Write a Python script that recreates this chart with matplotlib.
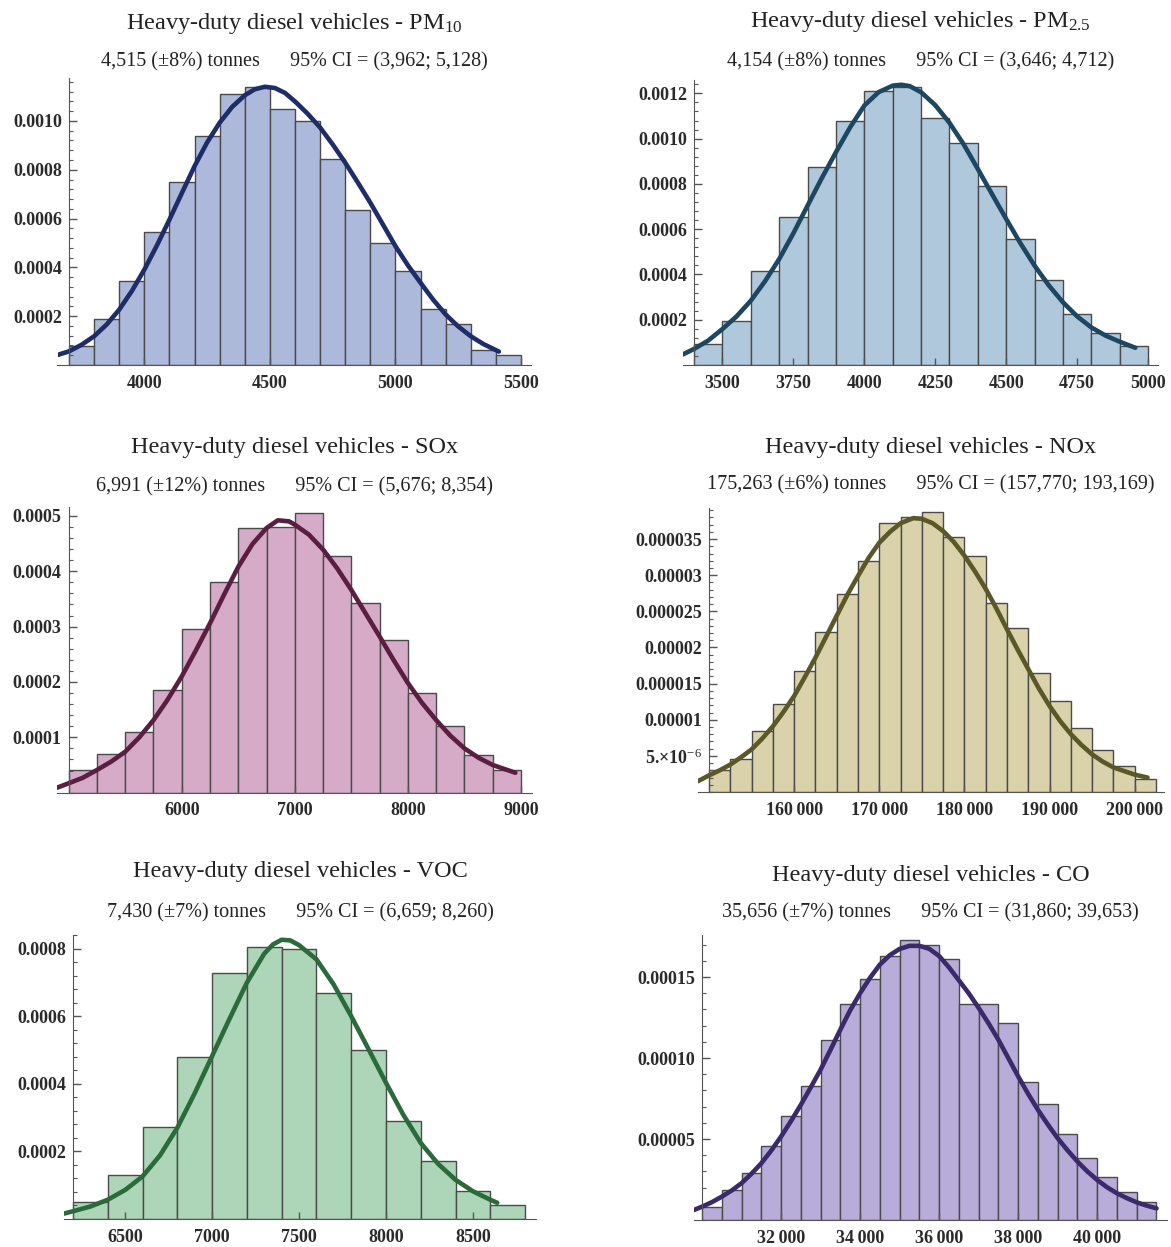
import numpy as np
import matplotlib
matplotlib.use("Agg")
import matplotlib.pyplot as plt
from matplotlib.ticker import AutoMinorLocator

plt.rcParams['font.family'] = ['Liberation Serif', 'DejaVu Serif']
plt.rcParams['mathtext.fontset'] = 'custom'
plt.rcParams['mathtext.rm'] = 'Liberation Serif'
plt.rcParams['mathtext.it'] = 'Liberation Serif:italic'
plt.rcParams['mathtext.bf'] = 'Liberation Serif:bold'

# ---------------- data ----------------
pm10_title = r'Heavy-duty diesel vehicles - PM$_\mathrm{10}$'
pm10_sub = ['4,515 (±8%) tonnes', '95% CI = (3,962; 5,128)']
pm10_bin_start = 3700
pm10_bin_width = 100
pm10_heights = [0.000077, 0.000189, 0.000343, 0.000544, 0.00075, 0.000938, 0.00111, 0.00114,
                0.00105, 0.0010, 0.000843, 0.000635, 0.000498, 0.000384, 0.00023, 0.000166,
                0.00006, 0.000042]
pm10_curve_x = [3654, 3700, 3750, 3800, 3850, 3900, 3950, 4000, 4050, 4100, 4150, 4200, 4250,
                4300, 4350, 4400, 4440, 4480, 4520, 4560, 4600, 4650, 4700, 4750, 4800, 4850,
                4900, 4950, 5000, 5050, 5100, 5150, 5200, 5250, 5300, 5350, 5412]
pm10_curve_y = [0.000041, 0.000056, 0.000083, 0.000118, 0.000166, 0.000227, 0.000303, 0.000391,
                0.00049, 0.000596, 0.000706, 0.000815, 0.000912, 0.000993, 0.001058, 0.001105,
                0.00113, 0.00114, 0.001135, 0.001115, 0.00108, 0.00103, 0.000973, 0.000904,
                0.000829, 0.000748, 0.000665, 0.000576, 0.000487, 0.000408, 0.000337, 0.000268,
                0.000207, 0.000158, 0.000118, 0.000086, 0.000055]
pm10_xticks = [4000, 4500, 5000, 5500]
pm10_xlabels = ['4000', '4500', '5000', '5500']
pm10_yticks = [0.0002, 0.0004, 0.0006, 0.0008, 0.0010]
pm10_ylabels = ['0.0002', '0.0004', '0.0006', '0.0008', '0.0010']

pm25_title = r'Heavy-duty diesel vehicles - PM$_\mathrm{2.5}$'
pm25_sub = ['4,154 (±8%) tonnes', '95% CI = (3,646; 4,712)']
pm25_bin_start = 3400
pm25_bin_width = 100
pm25_heights = [0.000093, 0.000193, 0.000417, 0.000652, 0.000873, 0.00108, 0.00121, 0.00123,
                0.00109, 0.00098, 0.000792, 0.000557, 0.000376, 0.000225, 0.00014, 0.000086]
pm25_curve_x = [3361, 3400, 3450, 3500, 3550, 3600, 3650, 3700, 3750, 3800, 3850, 3900, 3950,
                4000, 4050, 4100, 4130, 4160, 4200, 4250, 4300, 4350, 4400, 4450, 4500, 4550,
                4600, 4650, 4700, 4750, 4800, 4850, 4900, 4955]
pm25_curve_y = [0.000047, 0.000071, 0.000108, 0.000159, 0.000215, 0.000284, 0.00037, 0.000468,
                0.000582, 0.000704, 0.000825, 0.00094, 0.00105, 0.001146, 0.001205, 0.001234,
                0.001238, 0.001232, 0.001205, 0.001148, 0.00107, 0.000975, 0.000866, 0.000755,
                0.000645, 0.000538, 0.000439, 0.000352, 0.000277, 0.000215, 0.000166, 0.00013,
                0.000103, 0.000076]
pm25_xticks = [3500, 3750, 4000, 4250, 4500, 4750, 5000]
pm25_xlabels = ['3500', '3750', '4000', '4250', '4500', '4750', '5000']
pm25_yticks = [0.0002, 0.0004, 0.0006, 0.0008, 0.0010, 0.0012]
pm25_ylabels = ['0.0002', '0.0004', '0.0006', '0.0008', '0.0010', '0.0012']

sox_title = 'Heavy-duty diesel vehicles - SOx'
sox_sub = ['6,991 (±12%) tonnes', '95% CI = (5,676; 8,354)']
sox_bin_start = 5000
sox_bin_width = 250
sox_heights = [0.000041, 0.000069, 0.00011, 0.000186, 0.000296, 0.00038, 0.000478, 0.000479,
               0.000506, 0.000428, 0.000343, 0.000276, 0.00018, 0.000121, 0.000068, 0.000041]
sox_curve_x = [4897, 5000, 5125, 5250, 5375, 5500, 5625, 5750, 5875, 6000, 6125, 6250, 6375,
               6500, 6625, 6750, 6850, 6950, 7000, 7125, 7250, 7375, 7500, 7625, 7750, 7875,
               8000, 8125, 8250, 8375, 8500, 8625, 8750, 8950]
sox_curve_y = [0.000009, 0.000017, 0.000027, 0.000041, 0.000056, 0.000074, 0.0001, 0.000131,
               0.000168, 0.00021, 0.000257, 0.000306, 0.000358, 0.000408, 0.000449, 0.000478,
               0.000492, 0.00049, 0.000484, 0.000466, 0.000439, 0.000405, 0.000366, 0.000324,
               0.000282, 0.000239, 0.000198, 0.000162, 0.000131, 0.000103, 0.00008, 0.000063,
               0.00005, 0.000036]
sox_xticks = [6000, 7000, 8000, 9000]
sox_xlabels = ['6000', '7000', '8000', '9000']
sox_yticks = [0.0001, 0.0002, 0.0003, 0.0004, 0.0005]
sox_ylabels = ['0.0001', '0.0002', '0.0003', '0.0004', '0.0005']

nox_title = 'Heavy-duty diesel vehicles - NOx'
nox_sub = ['175,263 (±6%) tonnes', '95% CI = (157,770; 193,169)']
nox_bin_start = 150000
nox_bin_width = 2500
nox_heights = [3.1e-6, 4.6e-6, 8.4e-6, 12.2e-6, 16.7e-6, 22.2e-6, 27.4e-6, 32.0e-6, 37.2e-6,
               38.0e-6, 38.8e-6, 35.3e-6, 32.7e-6, 26.2e-6, 22.7e-6, 16.4e-6, 12.6e-6, 8.8e-6,
               5.8e-6, 3.6e-6, 1.8e-6]
nox_curve_x = [148700, 150000, 151250, 152500, 153750, 155000, 156250, 157500, 158750, 160000,
               161250, 162500, 163750, 165000, 166250, 167500, 168750, 170000, 171250, 172500,
               174000, 175000, 176250, 177500, 178750, 180000, 181250, 182500, 183750, 185000,
               186250, 187500, 188750, 190000, 191250, 192500, 193750, 195000, 196250, 197500,
               198750, 200000, 201500]
nox_curve_y = [1.5e-6, 2.3e-6, 3.0e-6, 3.8e-6, 4.8e-6, 5.9e-6, 7.4e-6, 9.1e-6, 11.1e-6, 13.3e-6,
               15.9e-6, 18.6e-6, 21.5e-6, 24.4e-6, 27.3e-6, 29.9e-6, 32.4e-6, 34.5e-6, 36.0e-6,
               37.2e-6, 37.9e-6, 37.8e-6, 37.2e-6, 36.1e-6, 34.6e-6, 32.7e-6, 30.5e-6, 28.1e-6,
               25.4e-6, 22.5e-6, 19.7e-6, 17.0e-6, 14.3e-6, 11.9e-6, 9.8e-6, 8.0e-6, 6.5e-6,
               5.2e-6, 4.2e-6, 3.4e-6, 2.9e-6, 2.4e-6, 2.0e-6]
nox_xticks = [160000, 170000, 180000, 190000, 200000]
nox_xlabels = ['160\u2009000', '170\u2009000', '180\u2009000', '190\u2009000', '200\u2009000']
nox_yticks = [5e-6, 10e-6, 15e-6, 20e-6, 25e-6, 30e-6, 35e-6]
nox_ylabels = ['5.×10$^{-6}$', '0.00001', '0.000015', '0.00002', '0.000025', '0.00003', '0.000035']

voc_title = 'Heavy-duty diesel vehicles - VOC'
voc_sub = ['7,430 (±7%) tonnes', '95% CI = (6,659; 8,260)']
voc_bin_start = 6200
voc_bin_width = 200
voc_heights = [0.00005, 0.000129, 0.000272, 0.00048, 0.000727, 0.000805, 0.0008, 0.000669,
               0.000499, 0.000289, 0.000171, 0.000082, 0.000041]
voc_curve_x = [6148, 6200, 6300, 6400, 6500, 6600, 6700, 6800, 6900, 7000, 7100, 7200, 7300,
               7350, 7400, 7450, 7500, 7600, 7700, 7800, 7900, 8000, 8100, 8200, 8300, 8400,
               8500, 8600, 8640]
voc_curve_y = [0.000016, 0.000023, 0.000037, 0.000057, 0.000086, 0.000126, 0.000188, 0.00027,
               0.000372, 0.000482, 0.000592, 0.000699, 0.000785, 0.000812, 0.000826, 0.000824,
               0.00081, 0.000768, 0.000693, 0.0006, 0.000502, 0.000403, 0.000308, 0.000225,
               0.000163, 0.000116, 0.000082, 0.000057, 0.000048]
voc_xticks = [6500, 7000, 7500, 8000, 8500]
voc_xlabels = ['6500', '7000', '7500', '8000', '8500']
voc_yticks = [0.0002, 0.0004, 0.0006, 0.0008]
voc_ylabels = ['0.0002', '0.0004', '0.0006', '0.0008']

co_title = 'Heavy-duty diesel vehicles - CO'
co_sub = ['35,656 (±7%) tonnes', '95% CI = (31,860; 39,653)']
co_bin_start = 30000
co_bin_width = 500
co_heights = [8e-6, 18.6e-6, 29.3e-6, 46e-6, 64.5e-6, 82.5e-6, 111e-6, 133.6e-6, 149e-6,
              163e-6, 173e-6, 170e-6, 161e-6, 133.6e-6, 133.6e-6, 121.6e-6, 85.2e-6, 71.8e-6,
              53.2e-6, 38.1e-6, 26.8e-6, 17.5e-6, 11.3e-6]
co_curve_x = [29798, 30000, 30250, 30500, 30750, 31000, 31250, 31500, 31750, 32000, 32250, 32500,
              32750, 33000, 33250, 33500, 33750, 34000, 34250, 34500, 34750, 35000, 35250, 35500,
              35750, 36000, 36250, 36500, 36750, 37000, 37250, 37500, 37750, 38000, 38250, 38500,
              38750, 39000, 39250, 39500, 39750, 40000, 40250, 40500, 40750, 41000, 41250, 41500]
co_curve_y = [6.2e-6, 8.2e-6, 11.0e-6, 14.4e-6, 18.2e-6, 22.7e-6, 28.5e-6, 35e-6, 42.8e-6,
              51.5e-6, 61e-6, 71.1e-6, 81.8e-6, 92.8e-6, 105e-6, 117.5e-6, 129.5e-6, 140e-6,
              149.5e-6, 157.7e-6, 163.5e-6, 167.4e-6, 169.3e-6, 169.3e-6, 167.5e-6, 163e-6,
              156e-6, 148e-6, 140e-6, 131e-6, 121.5e-6, 111.3e-6, 100e-6, 88.7e-6, 78e-6, 68e-6,
              59e-6, 50.5e-6, 43e-6, 36.1e-6, 30e-6, 24.7e-6, 20.2e-6, 16.5e-6, 13.5e-6,
              10.9e-6, 8.9e-6, 7.2e-6]
co_xticks = [32000, 34000, 36000, 38000, 40000]
co_xlabels = ['32\u2009000', '34\u2009000', '36\u2009000', '38\u2009000', '40\u2009000']
co_yticks = [0.00005, 0.00010, 0.00015]
co_ylabels = ['0.00005', '0.00010', '0.00015']

# ---------------- layout / style ----------------
W, H = 1171, 1247
fig = plt.figure(figsize=(W / 100, H / 100), dpi=100)

panels = [
    dict(title=pm10_title, sub=pm10_sub, start=pm10_bin_start, width=pm10_bin_width,
         heights=pm10_heights, cx=pm10_curve_x, cy=pm10_curve_y,
         xt=pm10_xticks, xl=pm10_xlabels, yt=pm10_yticks, yl=pm10_ylabels,
         box=(57.5, 531, 78, 365), xlim=(3654, 5540), ytop=0.001176,
         face='#adb9da', line='#1e2c68', ty=23, sy=62),
    dict(title=pm25_title, sub=pm25_sub, start=pm25_bin_start, width=pm25_bin_width,
         heights=pm25_heights, cx=pm25_curve_x, cy=pm25_curve_y,
         xt=pm25_xticks, xl=pm25_xlabels, yt=pm25_yticks, yl=pm25_ylabels,
         box=(683, 1158, 80, 365), xlim=(3361, 5035), ytop=0.001259,
         face='#b0c8dc', line='#1d4660', ty=22, sy=62),
    dict(title=sox_title, sub=sox_sub, start=sox_bin_start, width=sox_bin_width,
         heights=sox_heights, cx=sox_curve_x, cy=sox_curve_y,
         xt=sox_xticks, xl=sox_xlabels, yt=sox_yticks, yl=sox_ylabels,
         box=(57, 532, 507, 792.7), xlim=(4897, 9097), ytop=0.000516,
         face='#d6abc8', line='#5a1e40', ty=448, sy=487),
    dict(title=nox_title, sub=nox_sub, start=nox_bin_start, width=nox_bin_width,
         heights=nox_heights, cx=nox_curve_x, cy=nox_curve_y,
         xt=nox_xticks, xl=nox_xlabels, yt=nox_yticks, yl=nox_ylabels,
         box=(698, 1164, 508, 792), xlim=(148700, 203440), ytop=0.0000393,
         face='#d9d2ab', line='#5b5828', ty=448, sy=485),
    dict(title=voc_title, sub=voc_sub, start=voc_bin_start, width=voc_bin_width,
         heights=voc_heights, cx=voc_curve_x, cy=voc_curve_y,
         xt=voc_xticks, xl=voc_xlabels, yt=voc_yticks, yl=voc_ylabels,
         box=(64, 536, 935, 1219), xlim=(6148, 8863), ytop=0.00084,
         face='#acd6b7', line='#2b6a3a', ty=872, sy=913),
    dict(title=co_title, sub=co_sub, start=co_bin_start, width=co_bin_width,
         heights=co_heights, cx=co_curve_x, cy=co_curve_y,
         xt=co_xticks, xl=co_xlabels, yt=co_yticks, yl=co_ylabels,
         box=(694, 1167, 935, 1220), xlim=(29798, 41766), ytop=0.000176,
         face='#b8acd9', line='#3a2a6b', ty=875, sy=913),
]

for p in panels:
    l, r, t, b = p['box']
    ax = fig.add_axes([l / W, 1 - b / H, (r - l) / W, (b - t) / H])
    n = len(p['heights'])
    lefts = p['start'] + p['width'] * np.arange(n)
    ax.bar(lefts, p['heights'], width=p['width'], align='edge', color=p['face'],
           edgecolor='#4a4a4a', linewidth=1.0, zorder=1)
    ax.plot(p['cx'], p['cy'], color=p['line'], linewidth=3.3, solid_capstyle='round',
            solid_joinstyle='round', zorder=3)
    ax.set_xlim(*p['xlim'])
    ax.set_ylim(0, p['ytop'])
    for s in ('top', 'right'):
        ax.spines[s].set_visible(False)
    ax.spines['left'].set_position(('data', p['start']))
    ax.spines['left'].set_color('#555555')
    ax.spines['bottom'].set_color('#555555')
    ax.spines['left'].set_zorder(5)
    ax.spines['bottom'].set_zorder(5)
    ax.set_xticks(p['xt'], p['xl'])
    ax.set_yticks(p['yt'], p['yl'])
    ax.yaxis.set_minor_locator(AutoMinorLocator(5))
    ax.tick_params(axis='y', which='major', direction='in', length=6, width=1,
                   color='#555555', pad=5, labelsize=13)
    ax.tick_params(axis='y', which='minor', direction='in', length=3, width=0.8,
                   color='#555555')
    ax.tick_params(axis='x', which='major', direction='in', length=5, width=1,
                   color='#555555', pad=7, labelsize=13)
    for lab in ax.get_xticklabels() + ax.get_yticklabels():
        lab.set_fontweight('bold')
        lab.set_color('#2a2a2a')
    ax.patch.set_alpha(0)
    cx_fig = (l + r) / 2 / W
    fig.text(cx_fig, 1 - p['ty'] / H, p['title'], ha='center', va='center',
             fontsize=17.5, color='#222222')
    fig.text(cx_fig, 1 - p['sy'] / H, p['sub'][0] + '\u2003\u2002' + p['sub'][1],
             ha='center', va='center', fontsize=14.5, color='#222222')

fig.savefig('out.png', dpi=100)
